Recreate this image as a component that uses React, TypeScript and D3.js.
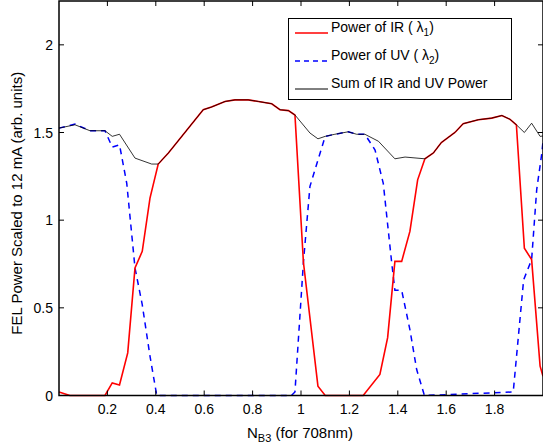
import React, { useEffect, useRef } from 'react';
import * as d3 from 'd3';

// [N_B3, power]
const irPoints: [number, number][] = [
  [0, 0.02], [0.045, 0], [0.19, 0], [0.22, 0.072], [0.25, 0.06], [0.284, 0.243], [0.314, 0.728],
  [0.344, 0.822], [0.376, 1.126], [0.41, 1.32], [0.452, 1.383], [0.596, 1.63], [0.63, 1.645],
  [0.686, 1.677], [0.727, 1.686], [0.782, 1.686], [0.824, 1.677], [0.879, 1.664], [0.913, 1.63],
  [0.948, 1.625], [0.975, 1.6], [1.01, 0.76], [1.07, 0.053], [1.1, 0], [1.257, 0], [1.326, 0.12],
  [1.358, 0.33], [1.388, 0.765], [1.416, 0.765], [1.45, 0.936], [1.482, 1.23], [1.512, 1.35],
  [1.547, 1.383], [1.58, 1.443], [1.636, 1.5], [1.67, 1.55], [1.733, 1.573], [1.788, 1.582],
  [1.83, 1.597], [1.864, 1.575], [1.89, 1.544], [1.923, 0.84], [1.953, 0.775], [1.988, 0.167], [2.0, 0.11],
];
const uvPoints: [number, number][] = [
  [0, 1.525], [0.066, 1.548], [0.128, 1.51], [0.19, 1.51], [0.22, 1.417], [0.25, 1.43], [0.28, 1.21],
  [0.314, 0.728], [0.344, 0.518], [0.376, 0.224], [0.404, 0], [0.96, 0], [0.975, 0.02], [1.01, 0.76],
  [1.037, 1.193], [1.1, 1.478], [1.14, 1.49], [1.195, 1.504], [1.23, 1.49], [1.264, 1.49], [1.306, 1.4],
  [1.34, 1.21], [1.375, 0.755], [1.388, 0.6], [1.416, 0.6], [1.45, 0.376], [1.478, 0.148], [1.51, 0],
  [1.877, 0.02], [1.92, 0.66], [1.953, 0.775], [1.974, 1.174], [1.995, 1.38], [2.0, 1.45],
];
const sumPoints: [number, number][] = [
  [0, 1.525], [0.066, 1.544], [0.128, 1.51], [0.19, 1.51], [0.22, 1.478], [0.25, 1.49], [0.314, 1.354],
  [0.383, 1.32], [0.41, 1.32], [0.452, 1.383], [0.596, 1.63], [0.63, 1.645], [0.686, 1.677],
  [0.727, 1.686], [0.782, 1.686], [0.824, 1.677], [0.879, 1.664], [0.913, 1.63], [0.948, 1.625],
  [0.975, 1.6], [1.037, 1.497], [1.07, 1.464], [1.1, 1.478], [1.14, 1.49], [1.195, 1.504], [1.23, 1.49],
  [1.264, 1.49], [1.32, 1.45], [1.388, 1.35], [1.43, 1.36], [1.512, 1.35], [1.547, 1.383], [1.58, 1.443],
  [1.636, 1.5], [1.67, 1.55], [1.733, 1.573], [1.788, 1.582], [1.83, 1.597], [1.864, 1.575],
  [1.89, 1.544], [1.923, 1.5], [1.953, 1.553], [1.988, 1.478], [2.0, 1.48],
];
const xTicks = [0.2, 0.4, 0.6, 0.8, 1, 1.2, 1.4, 1.6, 1.8];
const yTicks = [0, 0.5, 1, 1.5, 2];
const legendLabels = ['Power of IR ( ', 'Power of UV ( ', 'Sum of IR and UV Power'];

export default function App() {
  const svgRef = useRef<SVGSVGElement>(null);

  useEffect(() => {
    if (!svgRef.current) return;
    const svg = d3.select(svgRef.current);
    svg.selectAll('*').remove();
    const font = 'Liberation Sans, Arial, sans-serif';
    const margin = { left: 59, right: 0, top: 1, bottom: 49 };
    const W = 543, H = 445;
    const x = d3.scaleLinear().domain([0, 2]).range([margin.left, W - margin.right]);
    const y = d3.scaleLinear().domain([0, 2.25]).range([H - margin.bottom - 0.5, margin.top]);

    const line = d3.line<[number, number]>().x(d => x(d[0])).y(d => y(d[1]));

    svg.append('path').datum(uvPoints).attr('d', line).attr('fill', 'none')
      .attr('stroke', '#0000ff').attr('stroke-width', 1.5).attr('stroke-dasharray', '6,5');
    svg.append('path').datum(irPoints).attr('d', line).attr('fill', 'none')
      .attr('stroke', '#ff0000').attr('stroke-width', 1.6);
    svg.append('path').datum(sumPoints).attr('d', line).attr('fill', 'none')
      .attr('stroke', 'black').attr('stroke-width', 0.8);

    // frame
    const [x0, x1] = x.range();
    const [y0, y1] = y.range();
    svg.append('rect').attr('x', x0).attr('y', y1).attr('width', x1 - x0).attr('height', y0 - y1)
      .attr('fill', 'none').attr('stroke', 'black').attr('stroke-width', 1.5);

    // ticks (inward, on all sides)
    xTicks.forEach(t => {
      svg.append('line').attr('x1', x(t)).attr('x2', x(t)).attr('y1', y0).attr('y2', y0 - 5).attr('stroke', 'black');
      svg.append('line').attr('x1', x(t)).attr('x2', x(t)).attr('y1', y1).attr('y2', y1 + 5).attr('stroke', 'black');
      svg.append('text').attr('x', x(t)).attr('y', y0 + 18).attr('text-anchor', 'middle')
        .attr('font-family', font).attr('font-size', 14).text(String(t));
    });
    yTicks.forEach(t => {
      svg.append('line').attr('x1', x0).attr('x2', x0 + 5).attr('y1', y(t)).attr('y2', y(t)).attr('stroke', 'black');
      svg.append('line').attr('x1', x1).attr('x2', x1 - 5).attr('y1', y(t)).attr('y2', y(t)).attr('stroke', 'black');
      svg.append('text').attr('x', x0 - 6).attr('y', y(t) + 5).attr('text-anchor', 'end')
        .attr('font-family', font).attr('font-size', 14).text(String(t));
    });

    // axis labels
    const xl = svg.append('text').attr('x', 300).attr('y', 438).attr('text-anchor', 'middle')
      .attr('font-family', font).attr('font-size', 15);
    xl.append('tspan').text('N');
    xl.append('tspan').attr('font-size', 11).attr('dy', 4).text('B3');
    xl.append('tspan').attr('dy', -4).text(' (for 708nm)');
    svg.append('text').attr('transform', `translate(22,${(y0 + y1) / 2 + 5}) rotate(-90)`)
      .attr('text-anchor', 'middle').attr('font-family', font).attr('font-size', 15)
      .text('FEL Power Scaled to 12 mA (arb. units)');

    // legend
    const lg = svg.append('g');
    lg.append('rect').attr('x', 288.5).attr('y', 18.5).attr('width', 223).attr('height', 81)
      .attr('fill', 'white').attr('stroke', 'black');
    const styles = [
      { c: '#ff0000', d: null, w: 1.5, sub: '1' },
      { c: '#0000ff', d: '5,4', w: 1.5, sub: '2' },
      { c: 'black', d: null, w: 1, sub: null },
    ];
    legendLabels.forEach((lab, i) => {
      const ly = 33 + i * 28;
      const s = styles[i];
      lg.append('line').attr('x1', 295).attr('x2', 328).attr('y1', ly).attr('y2', ly)
        .attr('stroke', s.c).attr('stroke-width', s.w).attr('stroke-dasharray', s.d);
      const t = lg.append('text').attr('x', 331).attr('y', ly - 1).attr('font-family', font).attr('font-size', 14);
      t.append('tspan').text(lab);
      if (s.sub) {
        t.append('tspan').text('λ');
        t.append('tspan').attr('font-size', 10).attr('dy', 4).text(s.sub);
        t.append('tspan').attr('dy', -4).text(')');
      }
    });
  }, []);

  return (
    <svg ref={svgRef} width={543} height={445}
      style={{ position: 'absolute', left: 0, top: 0, background: 'white' }} />
  );
}
